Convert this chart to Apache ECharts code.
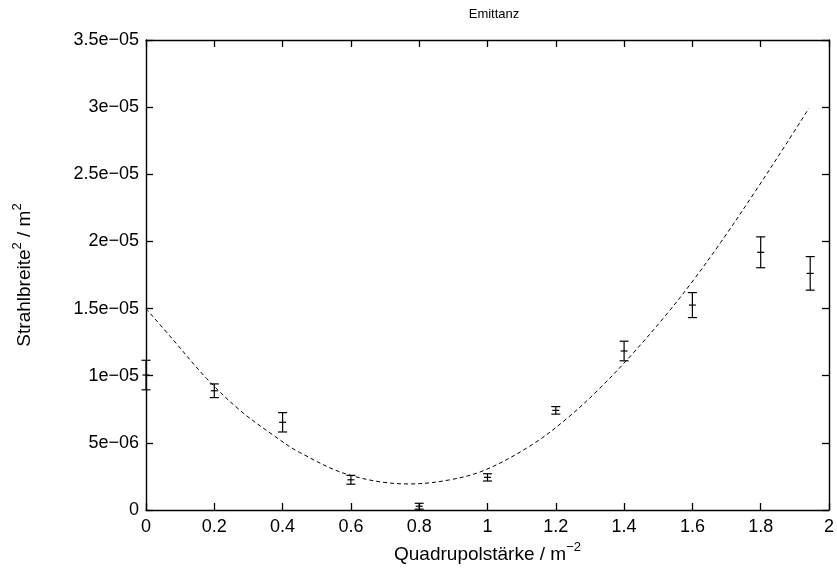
<!DOCTYPE html>
<html>
<head>
<meta charset="utf-8">
<script src="https://cdn.jsdelivr.net/npm/echarts@6/dist/echarts.min.js"></script>
<style>html,body{margin:0;padding:0;background:#fff}#c{width:837px;height:573px}</style>
</head>
<body>
<div id="c"></div>
<script>
// Measured points (Quadrupolstärke, Strahlbreite^2, error)
var pointX = [0, 0.2, 0.4, 0.6, 0.8, 1.0, 1.2, 1.4, 1.6, 1.8, 1.945];
var pointY = [1.005e-5, 0.888e-5, 0.653e-5, 0.225e-5, 0.028e-5, 0.243e-5, 0.742e-5, 1.184e-5, 1.526e-5, 1.919e-5, 1.762e-5];
var pointErr = [1.1e-6, 0.51e-6, 0.72e-6, 0.33e-6, 0.22e-6, 0.27e-6, 0.28e-6, 0.73e-6, 0.93e-6, 1.15e-6, 1.25e-6];

// Fit curve
var curveX = [0, 0.08, 0.177, 0.274, 0.371, 0.449, 0.595, 0.77, 0.886, 0.993, 1.129, 1.227, 1.324, 1.421, 1.518, 1.596, 1.683, 1.78, 1.878, 1.941];
var curveY = [1.50e-5, 1.266e-5, 0.981e-5, 0.745e-5, 0.56e-5, 0.43e-5, 0.261e-5, 0.194e-5, 0.223e-5, 0.298e-5, 0.484e-5, 0.670e-5, 0.894e-5, 1.153e-5, 1.438e-5, 1.688e-5, 1.993e-5, 2.357e-5, 2.739e-5, 2.991e-5];

var xTickLabels = ['0', '0.2', '0.4', '0.6', '0.8', '1', '1.2', '1.4', '1.6', '1.8', '2'];
var yTickLabels = ['0', '5e\u221206', '1e\u221205', '1.5e\u221205', '2e\u221205', '2.5e\u221205', '3e\u221205', '3.5e\u221205'];

var FONT = 'Liberation Sans, Arial, Helvetica, sans-serif';
var chart = echarts.init(document.getElementById('c'));

var pointData = pointX.map(function (x, i) { return [x, pointY[i], pointErr[i]]; });
var curveData = curveX.map(function (x, i) { return [x, curveY[i]]; });

var axisLine = { show: true, onZero: false, lineStyle: { color: '#000', width: 1.4 } };
var tickIn = { show: true, inside: true, length: 7, lineStyle: { color: '#000', width: 1.3 } };
var richName = {
  a: { fontFamily: FONT, fontSize: 19, color: '#000', lineHeight: 23, verticalAlign: 'bottom' },
  s: { fontFamily: FONT, fontSize: 13, color: '#000', lineHeight: 15, verticalAlign: 'top' }
};

chart.setOption({
  animation: false,
  title: {
    text: 'Emittanz', left: 489, top: 3, textAlign: 'center',
    textStyle: { fontFamily: FONT, fontSize: 13, fontWeight: 'normal', color: '#000' }
  },
  grid: { left: 146, right: 5, top: 40, bottom: 63, show: false },
  xAxis: [{
    type: 'value', min: 0, max: 2, interval: 0.2, position: 'bottom',
    axisLine: axisLine, axisTick: tickIn, splitLine: { show: false },
    axisLabel: {
      margin: 8, fontFamily: FONT, fontSize: 18, color: '#000',
      formatter: function (v) { return xTickLabels[Math.round(v / 0.2)]; }
    },
    name: '{a|Quadrupolstärke / m}{s|\u22122}',
    nameLocation: 'middle', nameGap: 28,
    nameTextStyle: { rich: richName }
  }, {
    type: 'value', min: 0, max: 2, interval: 0.2, position: 'top',
    axisLine: axisLine, axisTick: tickIn, splitLine: { show: false }, axisLabel: { show: false }
  }],
  yAxis: [{
    type: 'value', min: 0, max: 3.5e-5, interval: 5e-6, position: 'left',
    axisLine: axisLine, axisTick: tickIn, splitLine: { show: false },
    axisLabel: {
      margin: 7, fontFamily: FONT, fontSize: 18, color: '#000',
      formatter: function (v) { return yTickLabels[Math.round(v / 5e-6)]; }
    },
    name: '{a|Strahlbreite}{s|2}{a| / m}{s|2}',
    nameLocation: 'middle', nameGap: 112, nameRotate: 90,
    nameTextStyle: { rich: richName }
  }, {
    type: 'value', min: 0, max: 3.5e-5, interval: 5e-6, position: 'right',
    axisLine: axisLine, axisTick: tickIn, splitLine: { show: false }, axisLabel: { show: false }
  }],
  series: [{
    type: 'line', xAxisIndex: 0, yAxisIndex: 0,
    data: curveData, smooth: 0.35, showSymbol: false, symbol: 'none',
    lineStyle: { color: '#000', width: 1, type: [4, 3] }
  }, {
    type: 'custom', xAxisIndex: 0, yAxisIndex: 0, clip: false,
    data: pointData,
    renderItem: function (params, api) {
      var x = api.value(0), y = api.value(1), e = api.value(2);
      var c = api.coord([x, y]);
      var t = api.coord([x, y + e]);
      var b = api.coord([x, y - e]);
      var st = { stroke: '#000', lineWidth: 1.2 };
      var cap = 4.5, mk = 3.5;
      return {
        type: 'group',
        children: [
          { type: 'line', shape: { x1: t[0], y1: t[1], x2: b[0], y2: b[1] }, style: st },
          { type: 'line', shape: { x1: t[0] - cap, y1: t[1], x2: t[0] + cap, y2: t[1] }, style: st },
          { type: 'line', shape: { x1: b[0] - cap, y1: b[1], x2: b[0] + cap, y2: b[1] }, style: st },
          { type: 'line', shape: { x1: c[0] - mk, y1: c[1], x2: c[0] + mk, y2: c[1] }, style: st }
        ]
      };
    }
  }]
});
</script>
</body>
</html>
